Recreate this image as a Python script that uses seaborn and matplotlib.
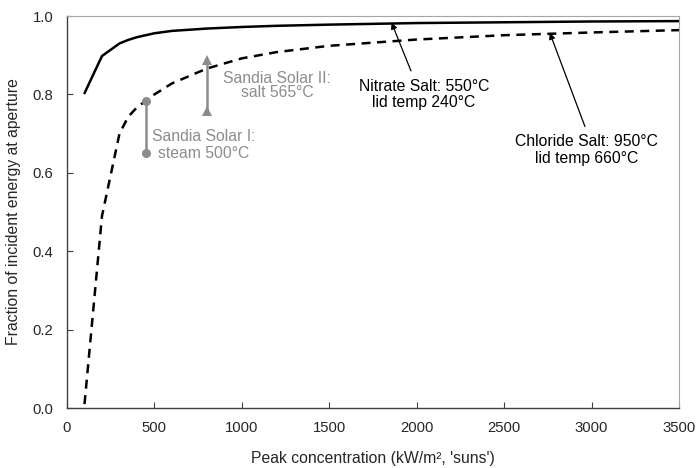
import numpy as np
import pandas as pd
import matplotlib as mpl
mpl.use('Agg')
import matplotlib.pyplot as plt
import seaborn as sns

# Peak concentration (suns) and fraction of energy at aperture
conc = [100, 200, 300, 350, 400, 500, 600, 800, 1000, 1200, 1500, 2000, 2500, 3000, 3500]
nitrate = [0.803, 0.898, 0.930, 0.939, 0.946, 0.956, 0.962, 0.968, 0.972, 0.975, 0.978, 0.982, 0.984, 0.986, 0.987]
chloride = [0.01, 0.49, 0.70, 0.743, 0.767, 0.80, 0.828, 0.866, 0.892, 0.908, 0.924, 0.940, 0.951, 0.958, 0.964]

# Sandia Solar I / II ranges
sandia1_x = [450, 450]
sandia1_y = [0.65, 0.784]
sandia2_x = [800, 800]
sandia2_y = [0.758, 0.888]

sns.set_style('ticks')
plt.rcParams['font.family'] = ['Liberation Sans', 'DejaVu Sans']

df = pd.DataFrame({'conc': conc, 'Nitrate': nitrate, 'Chloride': chloride})

fig = plt.figure(figsize=(6.96, 4.68), dpi=100)
ax = fig.add_axes([0.0963, 0.1282, 0.8793, 0.8376])

sns.lineplot(data=df, x='conc', y='Nitrate', ax=ax, color='black', lw=1.8)
sns.lineplot(data=df, x='conc', y='Chloride', ax=ax, color='black', lw=1.8)
ax.lines[-1].set_dashes((3.6, 2.6))

grey = '#8c8c8c'
sns.lineplot(x=sandia1_x, y=sandia1_y, ax=ax, color=grey, lw=1.8, marker='o',
             markersize=6.5, markeredgewidth=0, estimator=None, errorbar=None,
             sort=False)
sns.lineplot(x=sandia2_x, y=sandia2_y, ax=ax, color=grey, lw=1.8, marker='^',
             markersize=7.5, markeredgewidth=0, estimator=None, errorbar=None,
             sort=False)

fs = 11.3
ax.text(780, 0.671, 'Sandia Solar I:\nsteam 500°C', color=grey, fontsize=fs,
        ha='center', va='center', linespacing=1.1)
ax.text(1200, 0.823, 'Sandia Solar II:\nsalt 565°C', color=grey, fontsize=fs,
        ha='center', va='center', linespacing=0.98)

ax.text(2041, 0.800, 'Nitrate Salt: 550°C\nlid temp 240°C', color='black',
        fontsize=fs, ha='center', va='center', linespacing=1.12)
ax.text(2973, 0.658, 'Chloride Salt: 950°C\nlid temp 660°C', color='black',
        fontsize=fs, ha='center', va='center', linespacing=1.12)

arrow = dict(arrowstyle='-|>', color='black', lw=0.9, mutation_scale=9,
             shrinkA=0, shrinkB=0)
ax.annotate('', xy=(1856, 0.983), xytext=(1967, 0.860), arrowprops=arrow)
ax.annotate('', xy=(2761, 0.957), xytext=(2962, 0.718), arrowprops=arrow)

ax.set_xlim(0, 3500)
ax.set_ylim(0, 1.0)
ax.set_xticks(np.arange(0, 3501, 500))
ax.set_yticks(np.arange(0, 1.01, 0.2))
ax.set_yticklabels(['%.1f' % v for v in np.arange(0, 1.01, 0.2)])
ax.tick_params(direction='in', length=4, width=0.8, color='#404040',
               labelsize=10.7)
ax.tick_params(axis='x', pad=9)
ax.tick_params(axis='y', pad=10)
ax.set_xlabel("Peak concentration (kW/m², 'suns')", fontsize=fs, labelpad=12)
ax.set_ylabel('Fraction of incident energy at aperture', fontsize=fs, labelpad=8)

for s in ['left', 'bottom']:
    ax.spines[s].set_color('#404040')
    ax.spines[s].set_linewidth(1.0)
for s in ['top', 'right']:
    ax.spines[s].set_visible(True)
    ax.spines[s].set_color('#a6a6a6')
    ax.spines[s].set_linewidth(0.8)

fig.savefig('out.png', dpi=100)
